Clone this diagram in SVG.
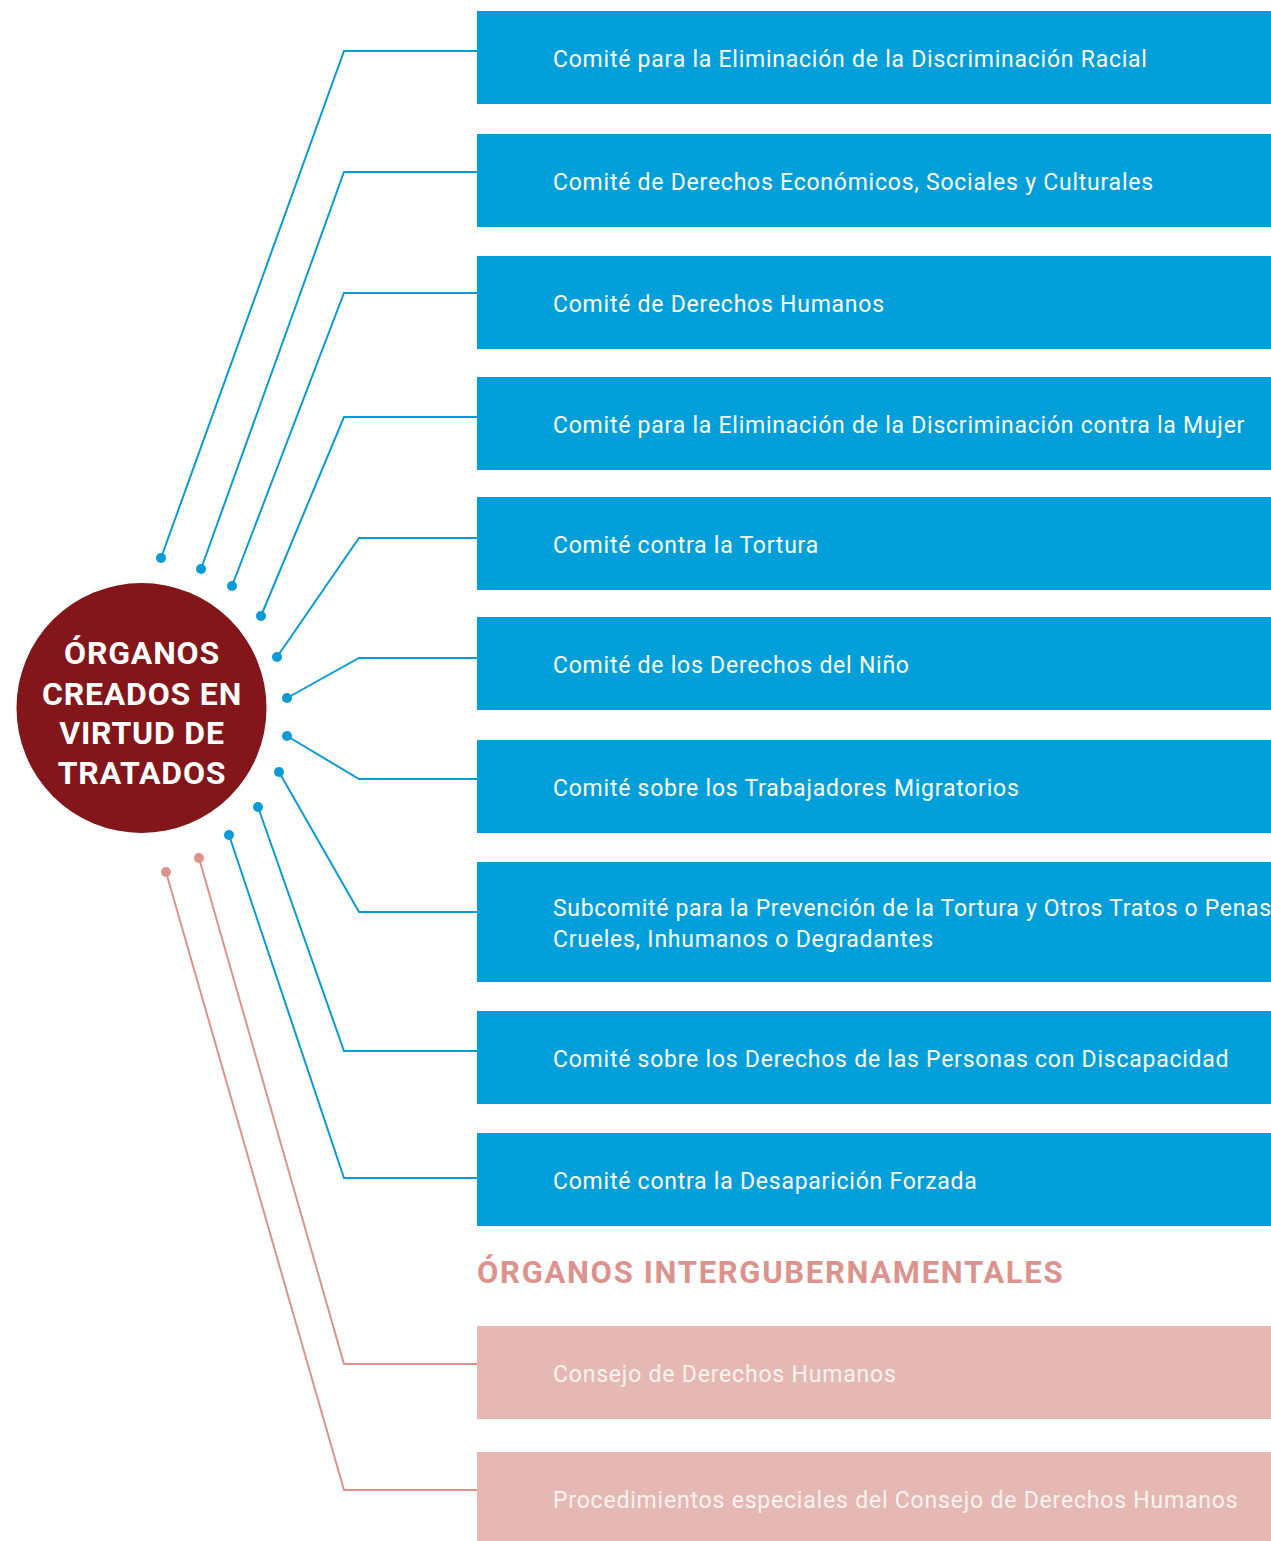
<svg xmlns="http://www.w3.org/2000/svg" width="1271" height="1541" viewBox="0 0 1271 1541">
<style>
.box{fill:#009fda}
.pbox{fill:#e6b8b3}
.lbl{font-family:Roboto,"Liberation Sans",sans-serif;font-size:23px;fill:#ffffff;letter-spacing:0.76px}
.plbl{font-family:Roboto,"Liberation Sans",sans-serif;font-size:23px;fill:#fdf3f1;letter-spacing:0.8px}
.bl{fill:none;stroke:#0a9bd6;stroke-width:2}
.pl{fill:none;stroke:#dc938d;stroke-width:2}
.bd{fill:#0a9bd6}
.pd{fill:#dc938d}
.ctr{font-family:Roboto,"Liberation Sans",sans-serif;font-weight:bold;font-size:32px;fill:#ffffff;letter-spacing:0.8px;text-anchor:middle}
.hdr{font-family:Roboto,"Liberation Sans",sans-serif;font-weight:bold;font-size:31px;fill:#dc938d;letter-spacing:1.7px}
</style>
<rect width="1271" height="1541" fill="#ffffff"/>
<g id="connectors">
<polyline class="bl" points="161,558 344,51 477,51"/>
<polyline class="bl" points="201,569 344,172 477,172"/>
<polyline class="bl" points="232,586 344,293 477,293"/>
<polyline class="bl" points="261,616 344,417 477,417"/>
<polyline class="bl" points="277,657 359,538 477,538"/>
<polyline class="bl" points="287,698 359,658 477,658"/>
<polyline class="bl" points="287,736 359,779 477,779"/>
<polyline class="bl" points="279,772 359,912 477,912"/>
<polyline class="bl" points="258,807 344,1051 477,1051"/>
<polyline class="bl" points="229,835 344,1178 477,1178"/>
<polyline class="pl" points="199,858 344,1364 477,1364"/>
<polyline class="pl" points="166,872 344,1490 477,1490"/>
<circle class="bd" cx="161" cy="558" r="5"/>
<circle class="bd" cx="201" cy="569" r="5"/>
<circle class="bd" cx="232" cy="586" r="5"/>
<circle class="bd" cx="261" cy="616" r="5"/>
<circle class="bd" cx="277" cy="657" r="5"/>
<circle class="bd" cx="287" cy="698" r="5"/>
<circle class="bd" cx="287" cy="736" r="5"/>
<circle class="bd" cx="279" cy="772" r="5"/>
<circle class="bd" cx="258" cy="807" r="5"/>
<circle class="bd" cx="229" cy="835" r="5"/>
<circle class="pd" cx="199" cy="858" r="5"/>
<circle class="pd" cx="166" cy="872" r="5"/>
</g>
<g id="center">
<circle cx="141.5" cy="708" r="125" fill="#82161a"/>
<text class="ctr" x="142" y="664">ÓRGANOS</text>
<text class="ctr" x="142" y="705">CREADOS EN</text>
<text class="ctr" x="142" y="744">VIRTUD DE</text>
<text class="ctr" x="142" y="784">TRATADOS</text>
</g>
<g id="n1"><rect class="box" x="477" y="11" width="794" height="93"/><text class="lbl" x="553" y="66.5">Comité para la Eliminación de la Discriminación Racial</text></g>
<g id="n2"><rect class="box" x="477" y="134" width="794" height="93"/><text class="lbl" x="553" y="189.5">Comité de Derechos Económicos, Sociales y Culturales</text></g>
<g id="n3"><rect class="box" x="477" y="256" width="794" height="93"/><text class="lbl" x="553" y="311.5">Comité de Derechos Humanos</text></g>
<g id="n4"><rect class="box" x="477" y="377" width="794" height="93"/><text class="lbl" x="553" y="432.5">Comité para la Eliminación de la Discriminación contra la Mujer</text></g>
<g id="n5"><rect class="box" x="477" y="497" width="794" height="93"/><text class="lbl" x="553" y="552.5">Comité contra la Tortura</text></g>
<g id="n6"><rect class="box" x="477" y="617" width="794" height="93"/><text class="lbl" x="553" y="672.5">Comité de los Derechos del Niño</text></g>
<g id="n7"><rect class="box" x="477" y="740" width="794" height="93"/><text class="lbl" x="553" y="795.5">Comité sobre los Trabajadores Migratorios</text></g>
<g id="n8"><rect class="box" x="477" y="862" width="794" height="120"/><text class="lbl" x="553" y="915.5" style="letter-spacing:0.68px">Subcomité para la Prevención de la Tortura y Otros Tratos o Penas</text><text class="lbl" x="553" y="946.5">Crueles, Inhumanos o Degradantes</text></g>
<g id="n9"><rect class="box" x="477" y="1011" width="794" height="93"/><text class="lbl" x="553" y="1066.5">Comité sobre los Derechos de las Personas con Discapacidad</text></g>
<g id="n10"><rect class="box" x="477" y="1133" width="794" height="93"/><text class="lbl" x="553" y="1188.5">Comité contra la Desaparición Forzada</text></g>
<g id="heading"><text class="hdr" x="477" y="1283">ÓRGANOS INTERGUBERNAMENTALES</text></g>
<g id="n11"><rect class="pbox" x="477" y="1326" width="794" height="93"/><text class="plbl" x="553" y="1381.5">Consejo de Derechos Humanos</text></g>
<g id="n12"><rect class="pbox" x="477" y="1452" width="794" height="89"/><text class="plbl" x="553" y="1507.5">Procedimientos especiales del Consejo de Derechos Humanos</text></g>
</svg>
